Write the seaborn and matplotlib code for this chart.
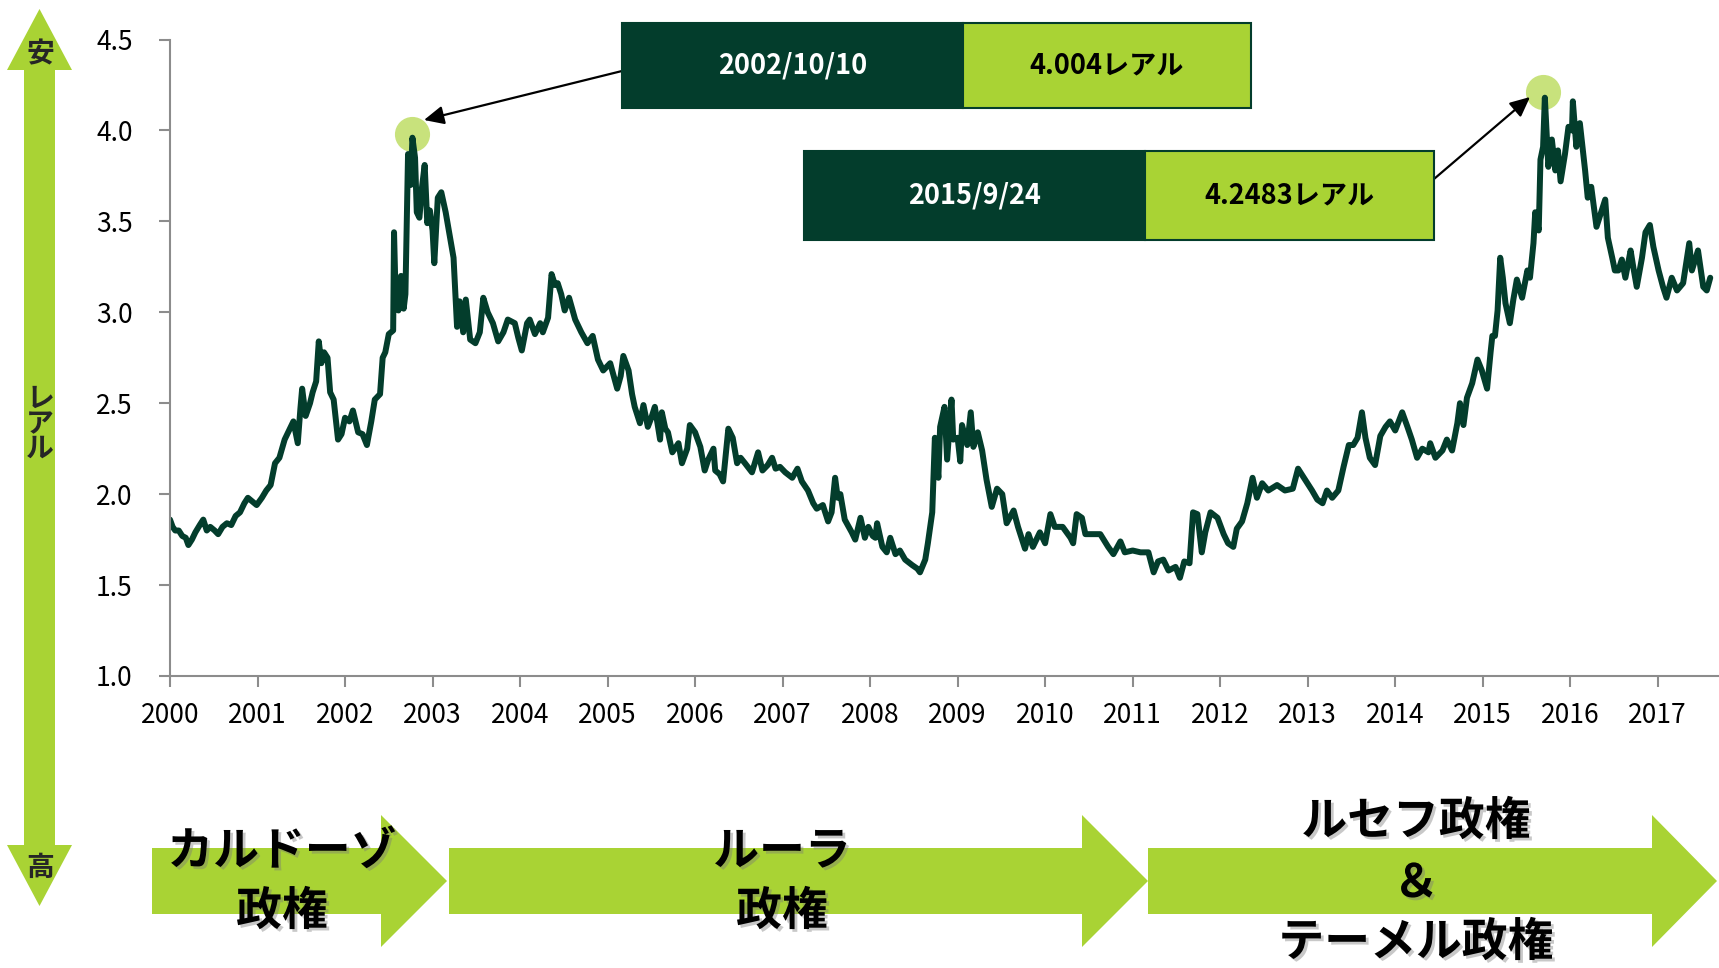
import matplotlib
matplotlib.use('Agg')
import matplotlib.pyplot as plt
import matplotlib.patheffects as pe
from matplotlib.patches import Polygon, Rectangle
import pandas as pd
import seaborn as sns

# USD/BRL rate (decimal year, reais per dollar)
yr_00_02 = [2000.00, 2000.03, 2000.06, 2000.10, 2000.14, 2000.18, 2000.21, 2000.25, 2000.29, 2000.34, 2000.38, 2000.42,
            2000.46, 2000.51, 2000.55, 2000.60, 2000.65, 2000.70, 2000.75, 2000.80, 2000.85, 2000.89, 2000.94, 2000.99,
            2001.05, 2001.10, 2001.15, 2001.20, 2001.25, 2001.31, 2001.36, 2001.41, 2001.46, 2001.49, 2001.51, 2001.55,
            2001.60, 2001.63, 2001.67, 2001.70, 2001.73, 2001.76, 2001.80, 2001.83, 2001.87, 2001.92, 2001.96,
            2002.00, 2002.05, 2002.09, 2002.12, 2002.15, 2002.20, 2002.25, 2002.30, 2002.34, 2002.40, 2002.43, 2002.46,
            2002.50, 2002.55, 2002.56, 2002.58, 2002.61, 2002.64, 2002.67, 2002.69, 2002.72, 2002.75, 2002.77, 2002.80,
            2002.82, 2002.85, 2002.88, 2002.91, 2002.94, 2002.97]
fx_00_02 = [1.86, 1.82, 1.80, 1.80, 1.77, 1.76, 1.72, 1.75, 1.79, 1.83, 1.86, 1.80,
            1.82, 1.80, 1.78, 1.82, 1.84, 1.83, 1.88, 1.90, 1.95, 1.98, 1.96, 1.94,
            1.98, 2.02, 2.05, 2.17, 2.20, 2.30, 2.35, 2.40, 2.28, 2.47, 2.58, 2.43,
            2.50, 2.56, 2.62, 2.84, 2.72, 2.78, 2.75, 2.56, 2.52, 2.30, 2.33,
            2.42, 2.40, 2.46, 2.40, 2.34, 2.33, 2.27, 2.40, 2.52, 2.55, 2.75, 2.78,
            2.88, 2.90, 3.44, 3.05, 3.01, 3.20, 3.02, 3.10, 3.87, 3.70, 3.96, 3.85,
            3.55, 3.52, 3.69, 3.81, 3.49, 3.56]

yr_03_06 = [2003.00, 2003.02, 2003.06, 2003.10, 2003.15, 2003.20, 2003.24, 2003.28, 2003.31, 2003.35, 2003.38, 2003.43,
            2003.49, 2003.54, 2003.58, 2003.63, 2003.69, 2003.75, 2003.81, 2003.86, 2003.90, 2003.94, 2003.98,
            2004.02, 2004.08, 2004.11, 2004.17, 2004.23, 2004.26, 2004.32, 2004.36, 2004.40, 2004.43, 2004.47, 2004.51,
            2004.56, 2004.63, 2004.70, 2004.77, 2004.83, 2004.89, 2004.95,
            2005.03, 2005.11, 2005.15, 2005.18, 2005.21, 2005.24, 2005.28, 2005.31, 2005.37, 2005.41, 2005.46, 2005.50,
            2005.54, 2005.60, 2005.62, 2005.66, 2005.69, 2005.74, 2005.81, 2005.85, 2005.91, 2005.94,
            2006.00, 2006.06, 2006.11, 2006.15, 2006.21, 2006.23, 2006.28, 2006.32, 2006.38, 2006.43, 2006.48, 2006.52,
            2006.57, 2006.65, 2006.72, 2006.77, 2006.83, 2006.88, 2006.92, 2006.97]
fx_03_06 = [3.45, 3.27, 3.63, 3.66, 3.55, 3.41, 3.30, 2.92, 3.06, 2.89, 3.07, 2.85,
            2.83, 2.89, 3.08, 3.00, 2.94, 2.84, 2.89, 2.96, 2.95, 2.94, 2.86,
            2.79, 2.94, 2.96, 2.88, 2.94, 2.89, 2.97, 3.21, 3.15, 3.16, 3.10, 3.01,
            3.08, 2.96, 2.89, 2.83, 2.87, 2.74, 2.68,
            2.72, 2.58, 2.65, 2.76, 2.72, 2.68, 2.55, 2.48, 2.39, 2.49, 2.37, 2.42,
            2.48, 2.30, 2.45, 2.36, 2.34, 2.23, 2.28, 2.17, 2.25, 2.38,
            2.34, 2.26, 2.13, 2.19, 2.25, 2.13, 2.11, 2.07, 2.36, 2.31, 2.17, 2.20,
            2.17, 2.12, 2.23, 2.13, 2.16, 2.20, 2.14, 2.15]

yr_07_10 = [2007.03, 2007.11, 2007.17, 2007.22, 2007.29, 2007.35, 2007.39, 2007.46, 2007.52, 2007.56, 2007.60, 2007.63,
            2007.66, 2007.71, 2007.79, 2007.83, 2007.89, 2007.94, 2007.98,
            2008.03, 2008.06, 2008.08, 2008.14, 2008.19, 2008.23, 2008.29, 2008.34, 2008.40, 2008.48, 2008.54, 2008.57,
            2008.63, 2008.66, 2008.71, 2008.74, 2008.78, 2008.80, 2008.85, 2008.88, 2008.93, 2008.95,
            2009.00, 2009.03, 2009.05, 2009.11, 2009.15, 2009.18, 2009.23, 2009.28, 2009.33, 2009.39, 2009.45, 2009.51,
            2009.56, 2009.64, 2009.69, 2009.77, 2009.81, 2009.86, 2009.94,
            2010.00, 2010.06, 2010.11, 2010.20, 2010.29, 2010.32, 2010.36, 2010.42, 2010.46, 2010.55, 2010.63, 2010.72,
            2010.78, 2010.86, 2010.91]
fx_07_10 = [2.12, 2.09, 2.14, 2.07, 2.02, 1.95, 1.92, 1.94, 1.85, 1.90, 2.09, 1.98,
            2.00, 1.86, 1.79, 1.75, 1.87, 1.76, 1.82,
            1.77, 1.76, 1.84, 1.71, 1.68, 1.76, 1.67, 1.69, 1.64, 1.61, 1.59, 1.57,
            1.64, 1.73, 1.90, 2.31, 2.09, 2.37, 2.48, 2.19, 2.52, 2.30,
            2.31, 2.18, 2.38, 2.27, 2.45, 2.26, 2.34, 2.24, 2.08, 1.93, 2.03, 2.00,
            1.84, 1.91, 1.82, 1.70, 1.78, 1.71, 1.79,
            1.73, 1.89, 1.82, 1.82, 1.76, 1.73, 1.89, 1.87, 1.78, 1.78, 1.78, 1.71,
            1.67, 1.74, 1.68]

yr_11_14 = [2011.00, 2011.09, 2011.18, 2011.24, 2011.29, 2011.35, 2011.41, 2011.49, 2011.54, 2011.59, 2011.65, 2011.69,
            2011.74, 2011.79, 2011.83, 2011.89, 2011.97,
            2012.04, 2012.09, 2012.15, 2012.19, 2012.25, 2012.31, 2012.37, 2012.42, 2012.48, 2012.55, 2012.65, 2012.74,
            2012.83, 2012.89, 2012.97,
            2013.05, 2013.11, 2013.17, 2013.22, 2013.28, 2013.35, 2013.41, 2013.47, 2013.52, 2013.57, 2013.62, 2013.66,
            2013.71, 2013.77, 2013.83, 2013.89, 2013.94,
            2014.00, 2014.08, 2014.14, 2014.19, 2014.25, 2014.31, 2014.38, 2014.40, 2014.46, 2014.54, 2014.59, 2014.65,
            2014.71, 2014.74, 2014.78, 2014.82, 2014.88, 2014.94, 2014.99]
fx_11_14 = [1.69, 1.68, 1.68, 1.57, 1.63, 1.64, 1.58, 1.60, 1.54, 1.63, 1.62, 1.90,
            1.89, 1.68, 1.79, 1.90, 1.87,
            1.78, 1.73, 1.71, 1.81, 1.85, 1.95, 2.09, 1.98, 2.06, 2.02, 2.05, 2.02,
            2.03, 2.14, 2.08,
            2.02, 1.97, 1.95, 2.02, 1.98, 2.02, 2.15, 2.27, 2.27, 2.31, 2.45, 2.31,
            2.20, 2.16, 2.32, 2.37, 2.40,
            2.35, 2.45, 2.37, 2.30, 2.20, 2.25, 2.23, 2.28, 2.20, 2.24, 2.30, 2.24,
            2.39, 2.50, 2.38, 2.53, 2.61, 2.74, 2.68]

yr_15_17 = [2015.05, 2015.09, 2015.11, 2015.14, 2015.17, 2015.20, 2015.23, 2015.26, 2015.31, 2015.35, 2015.39, 2015.45,
            2015.51, 2015.54, 2015.58, 2015.60, 2015.64, 2015.66, 2015.69, 2015.71, 2015.75, 2015.79, 2015.83, 2015.86,
            2015.89, 2015.94, 2015.98,
            2016.02, 2016.03, 2016.07, 2016.11, 2016.17, 2016.20, 2016.24, 2016.30, 2016.36, 2016.40, 2016.43, 2016.48,
            2016.51, 2016.55, 2016.59, 2016.63, 2016.69, 2016.72, 2016.76, 2016.82, 2016.86, 2016.91, 2016.95,
            2017.01, 2017.06, 2017.10, 2017.16, 2017.22, 2017.29, 2017.36, 2017.39, 2017.46, 2017.52, 2017.56, 2017.60]
fx_15_17 = [2.58, 2.78, 2.87, 2.87, 3.01, 3.30, 3.19, 3.05, 2.94, 3.07, 3.18, 3.08,
            3.23, 3.19, 3.38, 3.55, 3.45, 3.84, 3.91, 4.18, 3.80, 3.95, 3.78, 3.89,
            3.72, 3.87, 4.02,
            4.00, 4.16, 3.91, 4.04, 3.78, 3.63, 3.69, 3.47, 3.56, 3.62, 3.41, 3.30,
            3.23, 3.23, 3.29, 3.19, 3.34, 3.25, 3.14, 3.30, 3.44, 3.48, 3.36,
            3.23, 3.14, 3.08, 3.19, 3.12, 3.16, 3.38, 3.23, 3.34, 3.14, 3.12, 3.19]

years = list(range(2000, 2018))
year_labels = [str(y) for y in years]
y_ticks = [1.0, 1.5, 2.0, 2.5, 3.0, 3.5, 4.0, 4.5]

# peaks highlighted with a circle + callout box
peak_years = [2002.77, 2015.69]
peak_rates = [3.98, 4.21]
peak_dates = ['2002/10/10', '2015/9/24']
peak_values = ['4.004レアル', '4.2483レアル']

eras = [['カルドーゾ', '政権'], ['ルーラ', '政権'], ['ルセフ政権', '＆', 'テーメル政権']]

DARK = '#033d2c'
LIME = '#a9d334'
PALE = '#c8e27c'
GREY = '#8c8c8c'

sns.set_style('ticks')
plt.rcParams['font.family'] = ['Noto Sans CJK JP', 'DejaVu Sans']

W, H = 1719, 968
fig = plt.figure(figsize=(W / 100, H / 100), dpi=100)


def fx(x):
    return x / W


def fy(y):
    return 1 - y / H


ax = fig.add_axes([fx(170), fy(676), 1 - fx(170), (676 - 39.5) / H])

df = pd.DataFrame({'year': yr_00_02 + yr_03_06 + yr_07_10 + yr_11_14 + yr_15_17,
                   'rate': fx_00_02 + fx_03_06 + fx_07_10 + fx_11_14 + fx_15_17})

ax.scatter(peak_years, peak_rates, s=640, color=PALE, linewidths=0, zorder=1)
sns.lineplot(data=df, x='year', y='rate', ax=ax, color=DARK, lw=4.3,
             estimator=None, sort=False, zorder=2)

ax.set_xlim(2000, 2017.70)
ax.set_ylim(1.0, 4.5)
ax.set_xticks(years)
ax.set_xticklabels(year_labels)
ax.set_yticks(y_ticks)
ax.set_yticklabels([f'{v:.1f}' for v in y_ticks])
ax.set_xlabel('')
ax.set_ylabel('')
sns.despine(ax=ax)
for s in ['left', 'bottom']:
    ax.spines[s].set_color(GREY)
    ax.spines[s].set_linewidth(1.5)
ax.tick_params(axis='both', length=8, width=1.5, color=GREY, labelsize=19, labelcolor='black')
ax.tick_params(axis='y', pad=19)
ax.tick_params(axis='x', pad=11)

# callout boxes
boxes = [(622, 963, 1251, 23, 108), (804, 1145, 1434, 151, 240)]
for (x0, xm, x1, y0, y1), d, v in zip(boxes, peak_dates, peak_values):
    fig.add_artist(Rectangle((fx(x0), fy(y1)), fx(xm - x0), (y1 - y0) / H,
                             transform=fig.transFigure, facecolor=DARK, edgecolor=DARK, lw=1.5))
    fig.add_artist(Rectangle((fx(xm), fy(y1)), fx(x1 - xm), (y1 - y0) / H,
                             transform=fig.transFigure, facecolor=LIME, edgecolor=DARK, lw=1.5))
    yc = fy((y0 + y1) / 2)
    fig.text(fx((x0 + xm) / 2), yc, d, ha='center', va='center', color='white',
             fontsize=19.5, fontweight='bold')
    fig.text(fx((xm + x1) / 2), yc, v, ha='center', va='center', color='black',
             fontsize=19.5, fontweight='bold')

arrows = [((622, 71), (424, 120)), ((1434, 179), (1530, 97))]
for (sx, sy), (tx, ty) in arrows:
    ax.annotate('', xy=(fx(tx), fy(ty)), xycoords='figure fraction',
                xytext=(fx(sx), fy(sy)), textcoords='figure fraction',
                arrowprops=dict(arrowstyle='-|>,head_length=0.6,head_width=0.28', color='black',
                                lw=1.6, shrinkA=0, shrinkB=0, mutation_scale=20))


def poly(pts):
    fig.add_artist(Polygon([(fx(x), fy(y)) for x, y in pts], closed=True,
                           transform=fig.transFigure, facecolor=LIME, edgecolor='none'))


# vertical double arrow on the left (安 / 高)
poly([(39.5, 9), (72, 70), (55, 70), (55, 845), (72, 845), (39.5, 906),
      (7, 845), (24, 845), (24, 70), (7, 70)])
fig.text(fx(40), fy(54), '安', ha='center', va='center', fontsize=20, fontweight='bold')
fig.text(fx(40), fy(868), '高', ha='center', va='center', fontsize=20, fontweight='bold')
fig.text(fx(40), fy(424), 'レ\nア\nル', ha='center', va='center', fontsize=20,
         fontweight='bold', linespacing=0.85)

# administration arrows along the bottom
era_arrows = [(152, 381, 447), (449, 1082, 1148), (1148, 1652, 1717)]
for x0, xb, xt in era_arrows:
    poly([(x0, 848), (xb, 848), (xb, 815), (xt, 881), (xb, 947), (xb, 914), (x0, 914)])

era_x = [282, 782, 1416]
era_y = [[852, 912], [852, 912], [822, 884, 943]]
shadow = [pe.withSimplePatchShadow(offset=(2, -2), shadow_rgbFace='#777777', alpha=0.4)]
for lines, xc, ys in zip(eras, era_x, era_y):
    for line, yc in zip(lines, ys):
        fig.text(fx(xc), fy(yc), line, ha='center', va='center', fontsize=33,
                 fontweight='bold', color='black', path_effects=shadow)

fig.savefig('out.png', dpi=100)
